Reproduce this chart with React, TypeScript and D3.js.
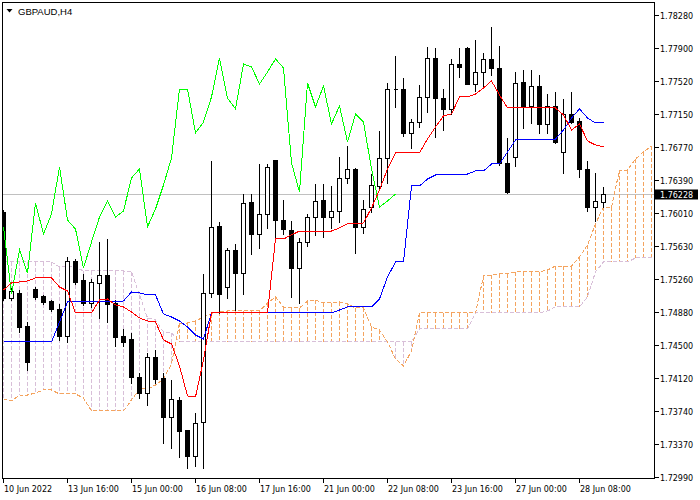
import React from "react";
import * as d3 from "d3";

const symbolTitle = "GBPAUD,H4";
const lastPrice = 1.76228;

const timeLabels = ["10 Jun 2022", "13 Jun 16:00", "15 Jun 00:00", "16 Jun 08:00", "17 Jun 16:00", "21 Jun 00:00", "22 Jun 08:00", "23 Jun 16:00", "27 Jun 00:00", "28 Jun 08:00"];
const timeLabelBars = [0, 8, 16, 24, 32, 40, 48, 56, 64, 72];
const priceTicks = [1.7299, 1.7337, 1.7374, 1.7412, 1.745, 1.7488, 1.7526, 1.7563, 1.7601, 1.7639, 1.7677, 1.7715, 1.7752, 1.779, 1.7828];

const openP = [1.76023, 1.75038, 1.75095, 1.74717, 1.75141, 1.75061, 1.75003, 1.74912, 1.74602, 1.75462, 1.75244, 1.74981, 1.75210, 1.75301, 1.74981, 1.74602, 1.74568, 1.74133, 1.73949, 1.74362, 1.74121, 1.73674, 1.73869, 1.73525, 1.73228, 1.73617, 1.75095, 1.75863, 1.75164, 1.75588, 1.75324, 1.76138, 1.75771, 1.76000, 1.76619, 1.75931, 1.75817, 1.75382, 1.75679, 1.75966, 1.76161, 1.75966, 1.76035, 1.76413, 1.76516, 1.75851, 1.76080, 1.76321, 1.76642, 1.77432, 1.77432, 1.76928, 1.77054, 1.77341, 1.77787, 1.77329, 1.77203, 1.77719, 1.77902, 1.77490, 1.77627, 1.77776, 1.77673, 1.76585, 1.76653, 1.77513, 1.77238, 1.77467, 1.77031, 1.77238, 1.76711, 1.77146, 1.77066, 1.76516, 1.76080, 1.76138];
const highP = [1.76057, 1.75164, 1.75141, 1.74774, 1.75175, 1.75084, 1.75026, 1.74981, 1.75519, 1.75496, 1.75324, 1.75267, 1.75691, 1.75725, 1.75026, 1.74694, 1.74648, 1.74190, 1.74419, 1.74454, 1.74190, 1.74110, 1.73915, 1.73537, 1.73732, 1.75324, 1.76619, 1.75920, 1.75622, 1.75668, 1.76241, 1.76241, 1.76585, 1.76585, 1.76619, 1.76172, 1.75931, 1.75737, 1.76012, 1.76355, 1.76355, 1.76332, 1.76665, 1.76791, 1.76539, 1.76172, 1.76470, 1.76963, 1.77513, 1.77822, 1.77570, 1.77100, 1.77490, 1.77925, 1.77914, 1.77444, 1.77787, 1.77914, 1.77925, 1.78005, 1.77856, 1.78154, 1.77936, 1.76882, 1.77639, 1.77661, 1.77661, 1.77604, 1.77386, 1.77409, 1.77329, 1.77409, 1.77112, 1.76619, 1.76481, 1.76321];
const lowP = [1.75015, 1.75015, 1.74648, 1.74213, 1.75026, 1.74969, 1.74889, 1.74557, 1.74534, 1.75198, 1.74958, 1.74935, 1.74809, 1.74763, 1.74488, 1.74488, 1.74064, 1.73892, 1.73812, 1.74064, 1.73377, 1.73319, 1.73216, 1.73090, 1.73113, 1.73090, 1.75049, 1.74866, 1.75038, 1.74900, 1.75084, 1.75542, 1.75611, 1.75840, 1.75702, 1.75771, 1.75049, 1.74981, 1.75634, 1.75760, 1.75737, 1.75840, 1.75909, 1.76355, 1.75553, 1.75783, 1.76023, 1.76275, 1.76355, 1.77226, 1.76894, 1.76756, 1.76997, 1.77169, 1.76882, 1.76963, 1.77146, 1.77570, 1.77490, 1.77409, 1.77444, 1.77593, 1.76560, 1.76240, 1.76550, 1.76986, 1.77043, 1.76928, 1.76928, 1.76810, 1.76470, 1.77040, 1.76424, 1.76035, 1.75920, 1.76080];
const closeP = [1.75038, 1.75118, 1.74706, 1.74305, 1.75049, 1.74992, 1.74912, 1.74602, 1.75462, 1.75221, 1.74981, 1.75221, 1.75301, 1.74969, 1.74591, 1.74534, 1.74133, 1.73949, 1.74362, 1.74110, 1.73674, 1.73881, 1.73514, 1.73228, 1.73606, 1.75095, 1.75851, 1.75084, 1.75588, 1.75324, 1.76126, 1.75771, 1.76000, 1.76539, 1.75931, 1.75828, 1.75382, 1.75679, 1.75966, 1.76149, 1.75966, 1.76035, 1.76413, 1.76516, 1.75851, 1.76057, 1.76332, 1.76642, 1.77432, 1.77432, 1.76928, 1.77054, 1.77341, 1.77787, 1.77329, 1.77203, 1.77719, 1.77684, 1.77490, 1.77627, 1.77776, 1.77673, 1.76585, 1.76252, 1.77501, 1.77226, 1.77467, 1.77031, 1.77238, 1.76825, 1.77146, 1.77054, 1.76516, 1.76080, 1.76149, 1.76228];

const tenkan = [1.75129, 1.75210, 1.75221, 1.75233, 1.75267, 1.75267, 1.75267, 1.75164, 1.75118, 1.74866, 1.74866, 1.74866, 1.75015, 1.75026, 1.74958, 1.74935, 1.74877, 1.74809, 1.74774, 1.74763, 1.74557, 1.74511, 1.74259, 1.73915, 1.73904, 1.74327, 1.74866, 1.74866, 1.74866, 1.74866, 1.74866, 1.74866, 1.74866, 1.74866, 1.75714, 1.75714, 1.75760, 1.75805, 1.75805, 1.75805, 1.75805, 1.75805, 1.75840, 1.75886, 1.75886, 1.75897, 1.76069, 1.76275, 1.76516, 1.76699, 1.76699, 1.76699, 1.76699, 1.76859, 1.76997, 1.77123, 1.77146, 1.77341, 1.77341, 1.77375, 1.77444, 1.77524, 1.77364, 1.77215, 1.77215, 1.77215, 1.77215, 1.77215, 1.77215, 1.77215, 1.77134, 1.76963, 1.77031, 1.76837, 1.76791, 1.76768];
const kijun = [1.74534, 1.74534, 1.74534, 1.74534, 1.74534, 1.74534, 1.74534, 1.74763, 1.74992, 1.74992, 1.74992, 1.74992, 1.74992, 1.74992, 1.74992, 1.75003, 1.75107, 1.75095, 1.75072, 1.75072, 1.74855, 1.74820, 1.74774, 1.74706, 1.74614, 1.74568, 1.74866, 1.74866, 1.74866, 1.74866, 1.74866, 1.74866, 1.74866, 1.74866, 1.74866, 1.74866, 1.74866, 1.74866, 1.74866, 1.74866, 1.74866, 1.74866, 1.74900, 1.74935, 1.74935, 1.74935, 1.74935, 1.75026, 1.75278, 1.75450, 1.75450, 1.76321, 1.76321, 1.76401, 1.76447, 1.76458, 1.76458, 1.76458, 1.76458, 1.76493, 1.76493, 1.76573, 1.76573, 1.76711, 1.76848, 1.76859, 1.76859, 1.76859, 1.76859, 1.76859, 1.76963, 1.77100, 1.77203, 1.77100, 1.77043, 1.77043];
const senkouA = [1.73881, 1.73858, 1.73926, 1.73926, 1.73949, 1.73984, 1.73984, 1.73938, 1.73938, 1.73938, 1.73892, 1.73743, 1.73743, 1.73743, 1.73743, 1.73743, 1.73869, 1.73995, 1.73995, 1.74041, 1.74110, 1.74282, 1.74751, 1.74751, 1.74774, 1.74820, 1.74855, 1.74877, 1.74889, 1.74889, 1.74889, 1.74889, 1.74889, 1.74981, 1.75049, 1.74935, 1.74923, 1.74923, 1.75003, 1.75015, 1.74981, 1.74981, 1.74992, 1.74969, 1.74923, 1.74923, 1.74706, 1.74671, 1.74534, 1.74339, 1.74259, 1.74431, 1.74866, 1.74866, 1.74866, 1.74866, 1.74866, 1.74866, 1.74866, 1.74866, 1.75290, 1.75301, 1.75313, 1.75313, 1.75336, 1.75336, 1.75336, 1.75336, 1.75359, 1.75404, 1.75404, 1.75404, 1.75508, 1.75645, 1.75886, 1.76080, 1.76080, 1.76504, 1.76504, 1.76630, 1.76711, 1.76779];
const senkouB = [1.75450, 1.75450, 1.75450, 1.75450, 1.75450, 1.75450, 1.75450, 1.75393, 1.75393, 1.75393, 1.75347, 1.75347, 1.75347, 1.75347, 1.75347, 1.75347, 1.75336, 1.75072, 1.74809, 1.74786, 1.74648, 1.74637, 1.74534, 1.74534, 1.74534, 1.74534, 1.74534, 1.74534, 1.74534, 1.74534, 1.74534, 1.74534, 1.74534, 1.74534, 1.74534, 1.74534, 1.74534, 1.74534, 1.74534, 1.74534, 1.74534, 1.74534, 1.74534, 1.74534, 1.74534, 1.74534, 1.74534, 1.74534, 1.74534, 1.74534, 1.74534, 1.74534, 1.74683, 1.74683, 1.74683, 1.74683, 1.74683, 1.74683, 1.74683, 1.74866, 1.74866, 1.74866, 1.74866, 1.74866, 1.74866, 1.74866, 1.74866, 1.74866, 1.74889, 1.74935, 1.74935, 1.74935, 1.74935, 1.75049, 1.75336, 1.75450, 1.75450, 1.75450, 1.75450, 1.75496, 1.75496, 1.75496];

const CHIKOU_SHIFT = 26;

const W = 700;
const H = 500;
const PL = 2.5, PT = 2.5, PR = 654.5, PB = 478.5;
const FONT = "'DejaVu Sans', sans-serif";
const DASH = "4,2";

export default function App() {
  const x = d3.scaleLinear().domain([0, 75]).range([3.5, 603.5]);
  const y = d3.scaleLinear().domain([1.7299, 1.7828]).range([476.7, 15]);
  const ys = (v: number) => Math.round(y(v)) + 0.5;

  const lineGen = d3.line<number>().x((_, i) => x(i)).y((d) => y(d));
  const chikou = closeP.slice(CHIKOU_SHIFT);

  const fmt = d3.format(".5f");

  return (
    <svg width={W} height={H} style={{ position: "absolute", left: 0, top: 0, display: "block" }}>
      <rect x={0} y={0} width={W} height={H} fill="#ffffff" />
      <defs>
        <clipPath id="plotClip">
          <rect x={PL} y={PT} width={PR - PL} height={PB - PT} />
        </clipPath>
      </defs>

      <g clipPath="url(#plotClip)">
        <line x1={PL} x2={PR} y1={ys(lastPrice)} y2={ys(lastPrice)} stroke="#c0c0c0" strokeWidth={1} shapeRendering="crispEdges" />

        {senkouA.map((a, i) => {
          const b = senkouB[i];
          return (
            <line
              key={"h" + i}
              x1={x(i)}
              x2={x(i)}
              y1={y(Math.max(a, b))}
              y2={y(Math.min(a, b))}
              stroke={a >= b ? "#F4A460" : "#D8BFD8"}
              strokeWidth={1}
              strokeDasharray={DASH}
              shapeRendering="crispEdges"
            />
          );
        })}
        <path d={lineGen(senkouB) || ""} fill="none" stroke="#D8BFD8" strokeWidth={1} strokeDasharray={DASH} shapeRendering="crispEdges" />
        <path d={lineGen(senkouA) || ""} fill="none" stroke="#F4A460" strokeWidth={1} strokeDasharray={DASH} shapeRendering="crispEdges" />

        {openP.map((o, i) => {
          const c = closeP[i];
          const bull = c > o;
          const top = ys(Math.max(o, c));
          const bot = ys(Math.min(o, c));
          const cx = x(i);
          return (
            <g key={"c" + i} shapeRendering="crispEdges">
              <line x1={cx} x2={cx} y1={ys(highP[i])} y2={ys(lowP[i])} stroke="#000" strokeWidth={1} />
              {bot - top < 1 ? (
                <line x1={cx - 2} x2={cx + 2} y1={top} y2={top} stroke="#000" strokeWidth={1} />
              ) : (
                <rect x={cx - 2} y={top} width={4} height={bot - top} fill={bull ? "#ffffff" : "#000000"} stroke="#000" strokeWidth={1} />
              )}
            </g>
          );
        })}

        <path d={lineGen(chikou) || ""} fill="none" stroke="#00FF00" strokeWidth={1} shapeRendering="crispEdges" />
        <path d={lineGen(kijun) || ""} fill="none" stroke="#0000FF" strokeWidth={1} shapeRendering="crispEdges" />
        <path d={lineGen(tenkan) || ""} fill="none" stroke="#FF0000" strokeWidth={1} shapeRendering="crispEdges" />
      </g>

      <rect x={PL} y={PT} width={PR - PL} height={PB - PT} fill="none" stroke="#000" strokeWidth={1} shapeRendering="crispEdges" />

      {priceTicks.map((p, i) => (
        <g key={"pt" + i}>
          <line x1={PR} x2={PR + 4} y1={ys(p)} y2={ys(p)} stroke="#000" strokeWidth={1} shapeRendering="crispEdges" />
          <text x={660} y={ys(p) + 3} fontFamily={FONT} fontSize={8} fill="#000">{fmt(p)}</text>
        </g>
      ))}
      <rect x={655} y={ys(lastPrice) - 5} width={43} height={10} fill="#000" />
      <text x={660} y={ys(lastPrice) + 3} fontFamily={FONT} fontSize={8} fill="#fff">{fmt(lastPrice)}</text>

      {timeLabelBars.map((b, i) => (
        <g key={"tt" + i}>
          <line x1={Math.round(x(b)) - 0.5} x2={Math.round(x(b)) - 0.5} y1={PB} y2={PB + 4} stroke="#000" strokeWidth={1} shapeRendering="crispEdges" />
          <text x={x(b) + 0.5} y={491.5} fontFamily={FONT} fontSize={8} fill="#000">{timeLabels[i]}</text>
        </g>
      ))}

      <polygon points="6.5,9 12.5,9 9.5,12.5" fill="#000" />
      <text x={18} y={14.5} fontFamily="'Liberation Sans', Arial, sans-serif" fontSize={9.5} fill="#000">{symbolTitle}</text>
    </svg>
  );
}
